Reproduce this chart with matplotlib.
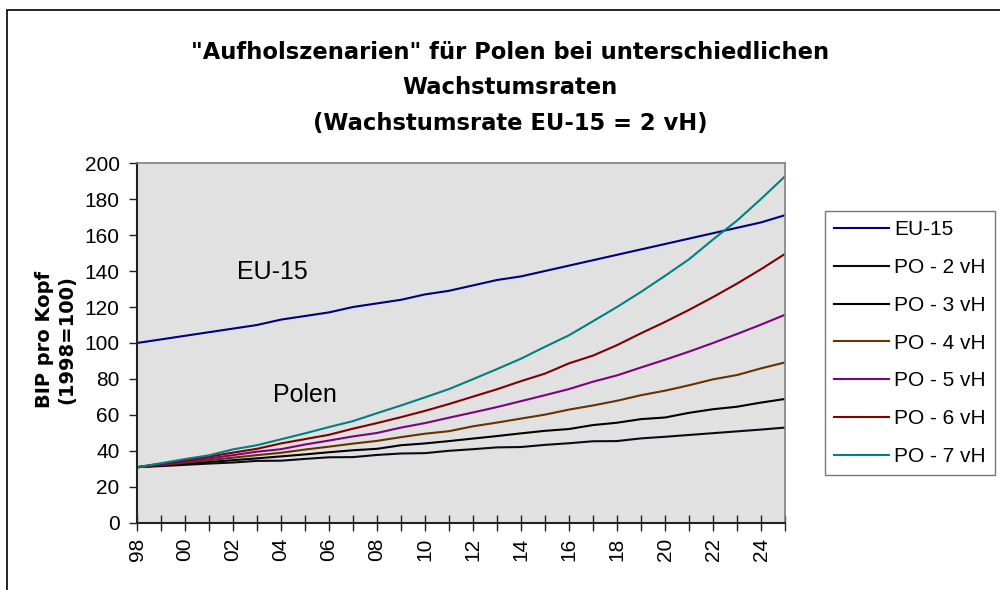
import matplotlib
matplotlib.use("Agg")
import matplotlib.pyplot as plt
from matplotlib.patches import Rectangle

plt.rcParams['font.family'] = ['Liberation Sans', 'DejaVu Sans']

years = list(range(1998, 2026))
tick_years = list(range(1998, 2026, 2))
tick_labels = ["98", "00", "02", "04", "06", "08", "10", "12", "14", "16", "18", "20", "22", "24"]

eu15 = [100, 102, 104, 106, 108, 110, 113, 115, 117, 120, 122, 124, 127, 129, 132, 135,
        137, 140, 143, 146, 149, 152, 155, 158, 161, 164, 167, 171]
po2 = [31, 31.6, 32.3, 33, 33.6, 34.5, 34.6, 35.6, 36.5, 36.6, 37.8, 38.6, 38.8, 40.1, 41, 42,
       42.2, 43.4, 44.3, 45.4, 45.5, 47, 47.9, 48.9, 49.9, 50.9, 51.9, 53]
po3 = [31, 31.9, 32.9, 33.9, 34.9, 35.9, 37, 38.1, 39.3, 40.4, 41.2, 43.2, 44.2, 45.5, 46.9, 48.3,
       49.8, 51.2, 52.2, 54.4, 55.7, 57.7, 58.6, 61.2, 63.2, 64.6, 66.9, 68.9]
po4 = [31, 32.2, 33.5, 34.9, 36.3, 37.7, 39, 40.8, 42.4, 44.1, 45.6, 47.7, 49.6, 51, 53.7, 55.8,
       58, 60.2, 63, 65.3, 67.9, 71, 73.5, 76.5, 79.8, 82.2, 85.9, 89.2]
po5 = [31, 32.6, 34.2, 35.9, 37.7, 39.6, 41, 43.6, 45.8, 48.1, 50, 53, 55.5, 58.5, 61.4, 64.4,
       67.7, 71, 74.4, 78.5, 82, 86.4, 90.7, 95.2, 100, 105, 110.2, 115.7]
po6 = [31, 32.9, 34.8, 36.9, 39.1, 41.2, 44.2, 46.6, 49, 52.4, 55.5, 58.8, 62.3, 66.1, 70.2, 74.3,
       78.8, 83, 88.7, 93, 98.8, 105.4, 111.7, 118.4, 125.5, 133, 141, 149.5]
po7 = [31, 33.2, 35.5, 37.6, 40.9, 43.2, 46.5, 49.8, 53.3, 56.6, 61, 65.3, 69.8, 74.4, 79.9, 85.5,
       91.3, 97.9, 104.3, 112.1, 120, 128.4, 137.3, 146.5, 157.5, 168, 180, 192.6]

series = [
    ("EU-15", eu15, "#000080"),
    ("PO - 2 vH", po2, "#0a0a14"),
    ("PO - 3 vH", po3, "#000000"),
    ("PO - 4 vH", po4, "#663300"),
    ("PO - 5 vH", po5, "#800080"),
    ("PO - 6 vH", po6, "#800000"),
    ("PO - 7 vH", po7, "#008080"),
]

fig = plt.figure(figsize=(10, 5.9), dpi=100)
fig.patches.append(Rectangle((0.007, -0.1), 1.2, 1.083, transform=fig.transFigure,
                             fill=False, edgecolor="#000000", linewidth=1.2))
ax = fig.add_axes([0.137, 0.1136, 0.648, 0.6101])
ax.set_facecolor("#E1E1E1")

handles = []
for name, vals, col in series:
    h, = ax.plot(years, vals, color=col, linewidth=1.5, label=name)
    handles.append(h)

ax.set_xlim(1998, 2025)
ax.set_ylim(0, 200)
ax.set_yticks(range(0, 201, 20))
ax.set_xticks(years)
lbls = []
for y in years:
    if y in tick_years:
        lbls.append(tick_labels[tick_years.index(y)])
    else:
        lbls.append("")
ax.set_xticklabels(lbls, rotation=90, fontsize=15)
ax.tick_params(axis='x', direction='inout', length=11, width=1, colors="#222222",
               labelcolor="black", pad=5)
ax.tick_params(axis='y', direction='out', length=6, width=1, colors="#222222",
               labelcolor="black", labelsize=15, pad=6.5)

for s in ("left", "bottom"):
    ax.spines[s].set_color("#222222")
    ax.spines[s].set_linewidth(1.5)
for s in ("top", "right"):
    ax.spines[s].set_color("#808080")
    ax.spines[s].set_linewidth(1.2)

fig.text(0.056, 1 - 340 / 590, "BIP pro Kopf\n(1998=100)", fontsize=14, fontweight="bold",
         rotation=90, ha="center", va="center", multialignment="center", linespacing=1.2,
         family=["DejaVu Sans"])

ax.text(2003.65, 139.4, "EU-15", fontsize=18, ha="center", va="center")
ax.text(2005.0, 71, "Polen", fontsize=18, ha="center", va="center")

tfont = dict(fontsize=16.3, fontweight="bold", ha="center", va="center",
             family=["DejaVu Sans"])
fig.text(0.51, 0.911, "\"Aufholszenarien\" für Polen bei unterschiedlichen", **tfont)
fig.text(0.51, 0.851, "Wachstumsraten", **tfont)
fig.text(0.51, 0.791, "(Wachstumsrate EU-15 = 2 vH)", **tfont)

leg = fig.legend(handles=handles, loc="upper left", bbox_to_anchor=(0.825, 1 - 211 / 590),
                 fontsize=15, frameon=True, fancybox=False, edgecolor="#555555",
                 handlelength=2.6, handletextpad=0.25, labelspacing=0.9, borderpad=0.45,
                 borderaxespad=0)
leg.get_frame().set_linewidth(1.0)

fig.savefig("out.png", dpi=100)
